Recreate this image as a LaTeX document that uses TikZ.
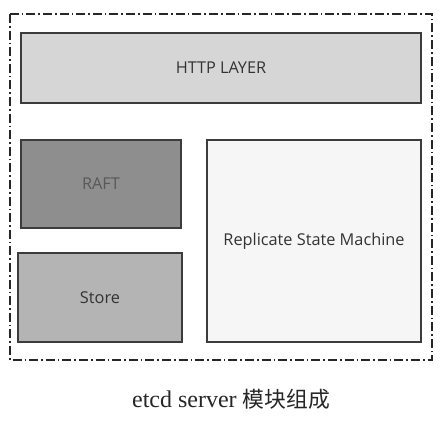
\documentclass[tikz,border=0pt]{standalone}
\usepackage{fontspec}
\setmainfont{Liberation Serif}
\newfontfamily\boxfont{Open Sans}
\newfontfamily\cjkfont{Noto Sans CJK SC}
\usetikzlibrary{positioning}
\definecolor{httpgray}{HTML}{D6D6D6}
\definecolor{raftgray}{HTML}{8E8E8E}
\definecolor{storegray}{HTML}{B4B4B4}
\definecolor{rsmgray}{HTML}{F6F6F6}
\definecolor{edgegray}{HTML}{3C3C3C}
\tikzset{
  modul/.style={
    rectangle,
    draw=edgegray, line width=1.5pt,
    inner sep=0pt,
    font=\boxfont\fontsize{16.3}{18}\selectfont,
    text=black!80,
    align=center},
  rahmen/.style={
    draw=black!85, line width=1.3pt,
    dash pattern=on 9pt off 3pt on 1.6pt off 3pt},
}
\begin{document}
\begin{tikzpicture}[x=1pt,y=-1pt]
  \useasboundingbox[fill=white] (0,0) rectangle (444,421);
  % outer frame
  \draw[rahmen] (10,14) rectangle (432,360);
  % modules
  \node[modul, fill=httpgray, minimum width=400pt, minimum height=70pt] (http) at (221,68) {HTTP LAYER};
  \node[modul, fill=raftgray, minimum width=160pt, minimum height=88pt, text=black!65] (raft) at (101,184) {RAFT};
  \node[modul, fill=storegray, minimum width=164pt, minimum height=89pt] (store) at (100,297.5) {Store};
  \node[modul, fill=rsmgray, minimum width=214pt, minimum height=202pt] (rsm) at (314,241) {Replicate State Machine};
  % caption
  \node[text=black!85] (caption) at (231,399) {{\fontsize{24}{26}\selectfont etcd server\ }{\cjkfont\fontsize{21.8}{26}\selectfont 模块组成}};
\end{tikzpicture}
\end{document}
